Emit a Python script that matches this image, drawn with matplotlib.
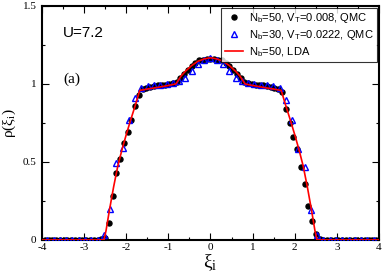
#!/usr/bin/env python3
"""Density profile rho(xi_i) for U=7.2: QMC (two trap sizes) vs LDA."""

import numpy as np
import matplotlib
matplotlib.use("Agg")
import matplotlib.pyplot as plt
from matplotlib.ticker import MultipleLocator

# Nb=50, V_T=0.008, QMC (black dots)
xi_nb50 = [
    -3.934, -3.844, -3.755, -3.665, -3.576, -3.486, -3.397, -3.308, -3.218, -3.129,
    -3.039, -2.950, -2.861, -2.771, -2.682, -2.592, -2.503, -2.414, -2.324, -2.235,
    -2.146, -2.056, -1.967, -1.877, -1.788, -1.699, -1.609, -1.520, -1.430, -1.341,
    -1.252, -1.162, -1.073, -0.983, -0.894, -0.805, -0.715, -0.626, -0.536, -0.447,
    -0.358, -0.268, -0.179, -0.089, 0.000, 0.089, 0.179, 0.268, 0.358, 0.447,
    0.536, 0.626, 0.715, 0.805, 0.894, 0.983, 1.073, 1.162, 1.252, 1.341,
    1.430, 1.520, 1.609, 1.699, 1.788, 1.877, 1.967, 2.056, 2.146, 2.235,
    2.324, 2.414, 2.503, 2.592, 2.682, 2.771, 2.861, 2.950, 3.039, 3.129,
    3.218, 3.308, 3.397, 3.486, 3.576, 3.665, 3.755, 3.844, 3.934,
]
rho_nb50 = [
    0.0, 0.0, 0.0, 0.0, 0.0, 0.0, 0.0, 0.0, 0.0, 0.0,
    0.0, 0.0, 0.0, 0.0, 0.0, 0.003, 0.01, 0.11, 0.28, 0.43,
    0.52, 0.62, 0.69, 0.77, 0.86, 0.93, 0.965, 0.975, 0.98, 0.985,
    0.99, 0.99, 0.995, 1.0, 1.005, 1.015, 1.04, 1.065, 1.09, 1.115,
    1.135, 1.15, 1.155, 1.16, 1.16, 1.16, 1.155, 1.15, 1.135, 1.115,
    1.09, 1.065, 1.04, 1.015, 1.005, 1.0, 0.995, 0.99, 0.99, 0.985,
    0.98, 0.975, 0.965, 0.95, 0.84, 0.75, 0.66, 0.58, 0.47, 0.36,
    0.22, 0.12, 0.04, 0.003, 0.0, 0.0, 0.0, 0.0, 0.0, 0.0,
    0.0, 0.0, 0.0, 0.0, 0.0, 0.0, 0.0, 0.0, 0.0,
]

# Nb=30, V_T=0.0222, QMC (open blue triangles)
xi_nb30 = [
    -3.874, -3.725, -3.576, -3.427, -3.278, -3.129, -2.980, -2.831, -2.682, -2.533,
    -2.384, -2.235, -2.086, -1.937, -1.788, -1.639, -1.490, -1.341, -1.192, -1.043,
    -0.894, -0.745, -0.596, -0.447, -0.298, -0.149, 0.000, 0.149, 0.298, 0.447,
    0.596, 0.745, 0.894, 1.043, 1.192, 1.341, 1.490, 1.639, 1.788, 1.937,
    2.086, 2.235, 2.384, 2.533, 2.682, 2.831, 2.980, 3.129, 3.278, 3.427,
    3.576, 3.725, 3.874,
]
rho_nb30 = [
    0.0, 0.0, 0.0, 0.0, 0.0, 0.0, 0.0, 0.0, 0.002, 0.03,
    0.20, 0.49, 0.59, 0.77, 0.91, 0.975, 0.985, 0.99, 0.995, 1.0,
    1.005, 1.02, 1.04, 1.08, 1.13, 1.15, 1.165, 1.15, 1.13, 1.08,
    1.04, 1.02, 1.005, 1.0, 0.995, 0.99, 0.985, 0.975, 0.90, 0.77,
    0.58, 0.47, 0.19, 0.03, 0.002, 0.0, 0.0, 0.0, 0.0, 0.0,
    0.0, 0.0, 0.0,
]

# Nb=50, LDA (red line)
xi_lda = [
    -4.0, -2.53, -2.48, -2.4, -2.3, -2.2, -2.1, -2.0, -1.9, -1.8, -1.68,
    -1.5, -1.25, -1.0, -0.82, -0.7, -0.6, -0.45, -0.3, -0.15, 0.0,
    0.15, 0.3, 0.45, 0.6, 0.7, 0.82, 1.0, 1.25, 1.5,
    1.68, 1.8, 1.9, 2.0, 2.1, 2.2, 2.3, 2.4, 2.48, 2.53, 4.0,
]
rho_lda = [
    0.0, 0.0, 0.06, 0.19, 0.34, 0.475, 0.58, 0.675, 0.765, 0.85, 0.958,
    0.967, 0.978, 0.99, 1.0, 1.05, 1.08, 1.117, 1.145, 1.16, 1.168,
    1.16, 1.145, 1.117, 1.08, 1.05, 1.0, 0.99, 0.978, 0.967,
    0.958, 0.85, 0.765, 0.675, 0.58, 0.475, 0.34, 0.19, 0.06, 0.0, 0.0,
]

x_ticks = [-4, -3, -2, -1, 0, 1, 2, 3, 4]
y_ticks = [0, 0.5, 1, 1.5]
y_tick_labels = ["0", "0.5", "1", "1.5"]

serif = ["Liberation Serif", "DejaVu Serif"]
sans = ["Liberation Sans", "DejaVu Sans"]

fig = plt.figure(figsize=(3.82, 2.80), dpi=100)
ax = fig.add_axes([0.110, 0.143, 0.882, 0.836])

ax.plot(xi_nb50, rho_nb50, "o", color="black", markersize=3.6,
        label="N$_\\mathregular{b}$=50, V$_\\mathregular{T}$=0.008, QMC", zorder=2)
ax.plot(xi_nb30, rho_nb30, "^", color="blue", markerfacecolor="none",
        markersize=5, markeredgewidth=1.0,
        label="N$_\\mathregular{b}$=30, V$_\\mathregular{T}$=0.0222, QMC", zorder=3)
ax.plot(xi_lda, rho_lda, "-", color="red", linewidth=1.2,
        label="N$_\\mathregular{b}$=50, LDA", zorder=4)

ax.set_xlim(-4, 4)
ax.set_ylim(0, 1.5)
ax.set_xticks(x_ticks)
ax.set_xticklabels([str(t) for t in x_ticks], family=serif, fontsize=8)
ax.set_yticks(y_ticks)
ax.set_yticklabels(y_tick_labels, family=serif, fontsize=8)
ax.xaxis.set_minor_locator(MultipleLocator(0.5))
ax.yaxis.set_minor_locator(MultipleLocator(0.25))
ax.tick_params(which="both", direction="in", top=True, right=True, width=0.8)
ax.tick_params(which="major", length=5)
ax.tick_params(which="minor", length=2.5)
ax.tick_params(axis="x", which="major", pad=2.5)
ax.tick_params(axis="y", which="major", pad=4)
for s in ax.spines.values():
    s.set_linewidth(1.5)

ax.set_xlabel("ξ$_\\mathregular{i}$", family=serif, fontsize=14, labelpad=0)
ax.set_ylabel("ρ(ξ$_\\mathregular{i}$)", family=serif, fontsize=11, labelpad=3)

ax.text(-3.5, 1.30, "U=7.2", family=sans, fontsize=11)
ax.text(-3.5, 1.01, "(a)", family=serif, fontsize=11)

leg = ax.legend(loc="upper right", prop={"family": sans, "size": 8},
                frameon=True, fancybox=False, edgecolor="black",
                borderaxespad=0.15, handlelength=1.6, handletextpad=0.6,
                labelspacing=0.3, borderpad=0.3, numpoints=1)
leg.get_frame().set_linewidth(0.8)

fig.savefig("out.png", dpi=100)
